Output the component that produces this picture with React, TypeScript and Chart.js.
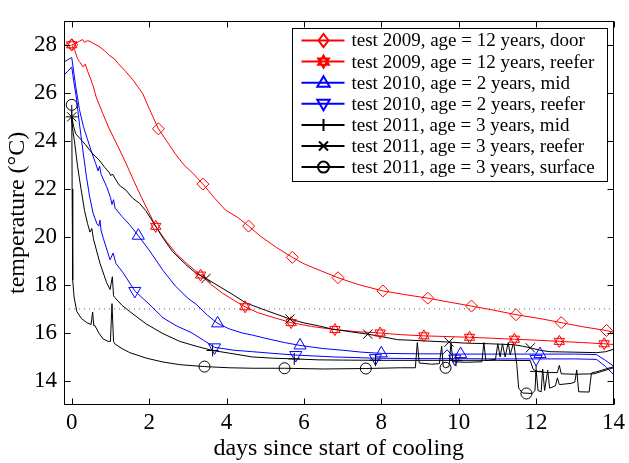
import React, { useEffect, useRef } from 'react';
import { Chart, registerables } from 'chart.js';
Chart.register(...registerables);

const FONT = '"Liberation Serif", "Times New Roman", serif';
const X_TICKS = [0, 2, 4, 6, 8, 10, 12, 14];
const Y_TICKS = [14, 16, 18, 20, 22, 24, 26, 28];
const X_MIN = -0.2;
const X_MAX = 14;
const Y_MIN = 13;
const Y_MAX = 29;
const THRESHOLD = 17;
const X_TITLE = 'days since start of cooling';
const Y_TITLE = 'temperature (°C)';

const LABELS = [
  'test 2009, age = 12 years, door',
  'test 2009, age = 12 years, reefer',
  'test 2010, age = 2 years, mid',
  'test 2010, age = 2 years, reefer',
  'test 2011, age = 3 years, mid',
  'test 2011, age = 3 years, reefer',
  'test 2011, age = 3 years, surface',
];
const COLORS = ['#ff0000', '#ff0000', '#0000ff', '#0000ff', '#000000', '#000000', '#000000'];
const MARKERS = ['diamond', 'hexagram', 'triUp', 'triDown', 'plus', 'x', 'circle'];

// test 2009 door
const DOOR_X = [0, 0.1, 0.2, 0.28, 0.33, 0.41, 0.5, 0.6, 0.71, 0.85, 0.97, 1.1, 1.2, 1.4, 1.6, 1.83, 2.0, 2.24, 2.45, 2.68, 2.9, 3.15, 3.39, 3.7, 3.97, 4.3, 4.57, 4.9, 5.3, 5.7, 6.0, 6.45, 6.88, 7.4, 8.04, 8.6, 9.2, 9.7, 10.33, 10.9, 11.48, 12.1, 12.65, 13.2, 13.82, 14];
const DOOR_Y = [28.0, 28.05, 28.15, 28.22, 28.1, 28.18, 28.12, 28.02, 27.93, 27.75, 27.56, 27.42, 27.22, 26.88, 26.5, 25.98, 25.35, 24.5, 24.0, 23.45, 23.0, 22.62, 22.2, 21.6, 21.12, 20.8, 20.45, 20.0, 19.55, 19.15, 18.88, 18.58, 18.3, 18.02, 17.75, 17.6, 17.45, 17.3, 17.12, 16.95, 16.76, 16.6, 16.43, 16.26, 16.1, 16.03];
const DOOR_MX = [0, 2.24, 3.39, 4.57, 5.7, 6.88, 8.04, 9.2, 10.33, 11.48, 12.65, 13.82];
const DOOR_MY = [28.0, 24.5, 22.2, 20.45, 19.15, 18.3, 17.75, 17.45, 17.12, 16.76, 16.43, 16.1];

// test 2009 reefer
const R09_X = [0, 0.07, 0.15, 0.2, 0.29, 0.35, 0.41, 0.46, 0.55, 0.63, 0.8, 0.97, 1.2, 1.4, 1.6, 1.8, 2.0, 2.17, 2.45, 2.7, 3.0, 3.33, 3.6, 3.9, 4.2, 4.48, 4.8, 5.2, 5.67, 6.2, 6.8, 7.4, 7.97, 8.5, 9.1, 9.7, 10.28, 10.85, 11.44, 12.0, 12.6, 13.2, 13.76, 14];
const R09_Y = [28.0, 27.8, 27.42, 27.3, 27.08, 27.2, 26.9, 26.7, 26.3, 25.83, 25.15, 24.5, 23.75, 23.07, 22.35, 21.65, 21.0, 20.44, 19.8, 19.3, 18.85, 18.41, 18.02, 17.65, 17.35, 17.09, 16.85, 16.65, 16.43, 16.27, 16.14, 16.05, 16.0, 15.93, 15.88, 15.85, 15.82, 15.78, 15.74, 15.7, 15.65, 15.6, 15.55, 15.52];
const R09_MX = [0, 2.17, 3.33, 4.48, 5.67, 6.8, 7.97, 9.1, 10.28, 11.44, 12.6, 13.76];
const R09_MY = [28.0, 20.44, 18.41, 17.09, 16.43, 16.14, 16.0, 15.88, 15.82, 15.74, 15.65, 15.55];

// test 2010 mid
const M10_X = [-0.2, -0.1, 0, 0.1, 0.2, 0.3, 0.4, 0.5, 0.62, 0.68, 0.72, 0.76, 0.9, 1.0, 1.04, 1.08, 1.12, 1.3, 1.5, 1.72, 2.0, 2.36, 2.68, 3.0, 3.21, 3.5, 3.77, 4.07, 4.4, 4.67, 5.0, 5.5, 5.9, 6.5, 7.0, 7.5, 8.0, 9.0, 9.6, 9.7, 9.8, 10.05, 11.0, 12.1, 13.0, 13.56, 13.8, 14];
const M10_Y = [27.28, 27.38, 27.47, 26.3, 25.3, 24.6, 24.1, 23.6, 23.05, 22.75, 22.95, 22.6, 22.1, 21.65, 21.35, 21.55, 21.2, 20.85, 20.5, 20.05, 19.45, 18.6, 17.95, 17.45, 17.2, 16.75, 16.4, 16.17, 16.0, 15.91, 15.78, 15.6, 15.48, 15.35, 15.28, 15.2, 15.15, 15.13, 15.13, 15.3, 15.12, 15.12, 15.12, 15.12, 15.12, 15.1, 14.85, 14.62];
const M10_MX = [1.72, 3.77, 5.9, 8.0, 10.05, 12.1];
const M10_MY = [20.05, 16.4, 15.48, 15.15, 15.12, 15.12];

// test 2010 reefer
const R10_X = [-0.2, -0.1, 0, 0.05, 0.11, 0.2, 0.28, 0.38, 0.46, 0.55, 0.65, 0.7, 0.73, 0.76, 0.82, 0.99, 1.07, 1.14, 1.33, 1.63, 2.0, 2.36, 2.7, 3.11, 3.4, 3.69, 4.2, 4.67, 5.2, 5.79, 6.8, 7.85, 9.0, 9.9, 11.0, 12.0, 13.0, 13.56, 13.8, 14];
const R10_Y = [26.75, 26.9, 27.08, 26.5, 25.9, 24.7, 23.7, 22.5, 21.7, 21.0, 20.55, 20.45, 20.7, 20.25, 19.92, 19.05, 19.33, 18.9, 18.5, 17.75, 17.2, 16.63, 16.3, 16.0, 15.7, 15.4, 15.28, 15.22, 15.15, 15.08, 15.0, 14.95, 14.93, 14.93, 14.92, 14.92, 14.92, 14.9, 14.6, 14.27];
const R10_MX = [1.63, 3.69, 5.79, 7.85, 9.9, 12.0];
const R10_MY = [17.75, 15.4, 15.08, 14.95, 14.93, 14.92];

// test 2011 mid
const M11_X = [0, 0.03, 0.07, 0.15, 0.24, 0.33, 0.41, 0.47, 0.52, 0.56, 0.73, 0.9, 0.99, 1.05, 1.08, 1.11, 1.3, 1.5, 1.93, 2.36, 2.79, 3.21, 3.64, 4.07, 4.67, 5.2, 5.75, 6.37, 7.0, 8.0, 9.0, 10.0, 11.0, 11.85, 11.92, 12.0, 12.3, 12.55, 12.6, 12.65, 13.0, 13.5, 13.7, 14];
const M11_Y = [25.0, 24.4, 24.0, 22.94, 22.0, 21.1, 20.55, 20.2, 20.35, 19.92, 18.9, 18.1, 17.81, 18.34, 17.55, 17.48, 17.15, 16.89, 16.37, 15.97, 15.65, 15.45, 15.27, 15.16, 15.0, 14.95, 14.92, 14.88, 14.87, 14.86, 14.86, 14.86, 14.86, 14.85, 14.5, 14.4, 14.35, 14.35, 14.65, 14.3, 14.28, 14.3, 14.4, 14.55];
const M11_MX = [0, 3.64, 5.75, 7.85, 9.93, 12.0];
const M11_MY = [25.0, 15.27, 14.92, 14.87, 14.86, 14.4];

// test 2011 reefer
const R11_X = [0, 0.05, 0.1, 0.2, 0.35, 0.54, 0.71, 0.85, 0.97, 1.01, 1.05, 1.23, 1.4, 1.57, 1.75, 1.91, 2.05, 2.17, 2.36, 2.6, 2.94, 3.2, 3.47, 3.8, 4.14, 4.5, 5.0, 5.64, 6.0, 6.37, 6.71, 7.2, 7.65, 8.0, 8.42, 9.0, 9.75, 10.14, 10.8, 11.42, 11.65, 11.85, 12.1, 12.36, 13.0, 13.56, 13.8, 14];
const R11_Y = [25.0, 24.6, 24.3, 24.12, 23.85, 23.46, 23.2, 22.9, 22.68, 22.55, 22.62, 22.15, 21.95, 21.62, 21.4, 21.1, 20.75, 20.44, 19.95, 19.4, 18.86, 18.5, 18.27, 17.95, 17.62, 17.25, 16.95, 16.58, 16.42, 16.3, 16.17, 16.05, 15.95, 15.85, 15.72, 15.68, 15.62, 15.58, 15.55, 15.51, 15.45, 15.38, 15.28, 15.22, 15.2, 15.18, 15.22, 15.32];
const R11_MX = [0, 3.47, 5.64, 7.65, 9.75, 11.85];
const R11_MY = [25.0, 18.27, 16.58, 15.95, 15.62, 15.38];

// test 2011 surface
const S11_X = [0, 0.01, 0.02, 0.03, 0.06, 0.13, 0.25, 0.39, 0.5, 0.54, 0.57, 0.6, 0.7, 0.81, 0.94, 1.0, 1.04, 1.08, 1.11, 1.3, 1.5, 1.93, 2.36, 2.79, 3.43, 4.07, 4.67, 5.5, 6.5, 7.6, 8.5, 8.88, 8.93, 8.98, 9.3, 9.5, 9.56, 9.6, 9.66, 9.75, 9.8, 9.85, 10.2, 10.6, 10.65, 10.7, 10.95, 11.01, 11.07, 11.13, 11.2, 11.28, 11.33, 11.42, 11.5, 11.55, 11.65, 11.9, 11.97, 12.0, 12.05, 12.13, 12.17, 12.22, 12.3, 12.35, 12.5, 12.55, 12.6, 12.9, 13.0, 13.05, 13.1, 13.37, 13.43, 13.6, 13.8, 14];
const S11_Y = [25.5, 22.0, 19.5, 18.2, 17.5, 16.9, 16.6, 16.43, 16.35, 16.87, 16.3, 16.3, 16.0, 15.75, 15.65, 15.65, 17.22, 15.65, 15.55, 15.35, 15.18, 14.95, 14.79, 14.68, 14.6, 14.55, 14.53, 14.53, 14.5, 14.52, 14.55, 14.55, 15.6, 14.75, 14.7, 14.72, 15.45, 14.6, 14.55, 14.6, 15.6, 14.8, 14.78, 14.8, 15.6, 14.85, 14.9, 15.55, 15.0, 15.55, 15.0, 15.6, 15.1, 15.6, 14.7, 13.7, 13.5, 13.48, 13.6, 14.46, 13.6, 13.55, 14.5, 13.6, 14.45, 13.7, 13.8, 14.13, 13.85, 13.9, 13.95, 14.46, 13.55, 13.54, 14.33, 14.4, 14.5, 14.59];
const S11_MX = [0, 3.43, 5.5, 7.6, 9.66, 11.75];
const S11_MY = [25.5, 14.6, 14.53, 14.52, 14.55, 13.48];

const SERIES_X = [DOOR_X, R09_X, M10_X, R10_X, M11_X, R11_X, S11_X];
const SERIES_Y = [DOOR_Y, R09_Y, M10_Y, R10_Y, M11_Y, R11_Y, S11_Y];
const MARK_X = [DOOR_MX, R09_MX, M10_MX, R10_MX, M11_MX, R11_MX, S11_MX];
const MARK_Y = [DOOR_MY, R09_MY, M10_MY, R10_MY, M11_MY, R11_MY, S11_MY];

// Chart.js point styles used for each marker kind (hexagram = two overlaid triangles)
const MARKER_STYLES: Record<string, { style: string; radius: number; rotation: number }[]> = {
  diamond: [{ style: 'rectRot', radius: 6, rotation: 0 }],
  hexagram: [
    { style: 'triangle', radius: 6, rotation: 0 },
    { style: 'triangle', radius: 6, rotation: 180 },
  ],
  triUp: [{ style: 'triangle', radius: 7, rotation: 0 }],
  triDown: [{ style: 'triangle', radius: 7, rotation: 180 }],
  plus: [{ style: 'cross', radius: 6, rotation: 0 }],
  x: [{ style: 'crossRot', radius: 6.5, rotation: 0 }],
  circle: [{ style: 'circle', radius: 5.5, rotation: 0 }],
};

function pathMarker(ctx: CanvasRenderingContext2D, kind: string, cx: number, cy: number) {
  ctx.beginPath();
  if (kind === 'diamond') {
    ctx.moveTo(cx - 5, cy);
    ctx.lineTo(cx, cy - 6.5);
    ctx.lineTo(cx + 5, cy);
    ctx.lineTo(cx, cy + 6.5);
    ctx.closePath();
  } else if (kind === 'triUp' || kind === 'triDown') {
    const s = kind === 'triUp' ? 1 : -1;
    ctx.moveTo(cx, cy - 6.5 * s);
    ctx.lineTo(cx + 6.2, cy + 4 * s);
    ctx.lineTo(cx - 6.2, cy + 4 * s);
    ctx.closePath();
  } else if (kind === 'hexagram') {
    const R = 6.2;
    for (let t = 0; t < 2; t++) {
      for (let k = 0; k < 3; k++) {
        const ang = -Math.PI / 2 + t * Math.PI + (k * 2 * Math.PI) / 3;
        const px = cx + R * Math.cos(ang);
        const py = cy + R * Math.sin(ang);
        if (k === 0) ctx.moveTo(px, py);
        else ctx.lineTo(px, py);
      }
      ctx.closePath();
    }
  } else if (kind === 'plus') {
    ctx.moveTo(cx - 6, cy);
    ctx.lineTo(cx + 6, cy);
    ctx.moveTo(cx, cy - 6);
    ctx.lineTo(cx, cy + 6);
  } else if (kind === 'x') {
    ctx.moveTo(cx - 4.5, cy - 4.5);
    ctx.lineTo(cx + 4.5, cy + 4.5);
    ctx.moveTo(cx + 4.5, cy - 4.5);
    ctx.lineTo(cx - 4.5, cy + 4.5);
  } else if (kind === 'circle') {
    ctx.arc(cx, cy, 5.5, 0, Math.PI * 2);
  }
  ctx.stroke();
}

const frameLegendPlugin = {
  id: 'frameLegend',
  afterDatasetsDraw(chart: any) {
    const { ctx, chartArea: a, scales } = chart;
    ctx.save();
    ctx.strokeStyle = '#000';
    ctx.lineWidth = 1;
    const L = Math.round(a.left) + 0.5;
    const R = Math.round(a.right) - 0.5;
    const T = Math.round(a.top) + 0.5;
    const B = Math.round(a.bottom) - 0.5;
    ctx.strokeRect(L, T, R - L, B - T);
    const tl = 6;
    ctx.beginPath();
    X_TICKS.forEach((v) => {
      const px = Math.round(scales.x.getPixelForValue(v)) + 0.5;
      ctx.moveTo(px, B);
      ctx.lineTo(px, B - tl);
      ctx.moveTo(px, T);
      ctx.lineTo(px, T + tl);
    });
    Y_TICKS.forEach((v) => {
      const py = Math.round(scales.y.getPixelForValue(v)) + 0.5;
      ctx.moveTo(L, py);
      ctx.lineTo(L + tl, py);
      ctx.moveTo(R, py);
      ctx.lineTo(R - tl, py);
    });
    ctx.stroke();

    // legend box
    const bx = Math.round(a.right) - 322 + 0.5;
    const by = Math.round(a.top) + 7 + 0.5;
    const bw = 315;
    const bh = 153;
    ctx.fillStyle = '#fff';
    ctx.fillRect(bx, by, bw, bh);
    ctx.strokeRect(bx, by, bw, bh);
    ctx.font = '19px ' + FONT;
    ctx.textBaseline = 'middle';
    ctx.textAlign = 'left';
    LABELS.forEach((lab, i) => {
      const y = by + 12 + i * 21.1;
      ctx.strokeStyle = COLORS[i];
      ctx.lineWidth = 2;
      ctx.beginPath();
      ctx.moveTo(bx + 9, y);
      ctx.lineTo(bx + 52, y);
      ctx.stroke();
      pathMarker(ctx, MARKERS[i], bx + 31, y);
      ctx.fillStyle = '#000';
      ctx.fillText(lab, bx + 59, y + 1);
    });
    ctx.restore();
  },
};

export default function App() {
  const ref = useRef<HTMLCanvasElement | null>(null);
  useEffect(() => {
    document.body.style.margin = '0';
    const canvas = ref.current;
    if (!canvas) return;
    const lineSets: any[] = [];
    const markSets: any[] = [];
    for (let i = 0; i < LABELS.length; i++) {
      const xs = SERIES_X[i];
      const ys = SERIES_Y[i];
      lineSets.push({
        label: LABELS[i],
        data: xs.map((x, k) => ({ x, y: ys[k] })),
        showLine: true,
        borderColor: COLORS[i],
        backgroundColor: COLORS[i],
        borderWidth: 1,
        pointRadius: 0,
        tension: 0,
        fill: false,
      });
      const mx = MARK_X[i];
      const my = MARK_Y[i];
      MARKER_STYLES[MARKERS[i]].forEach((ms, j) => {
        markSets.push({
          label: LABELS[i] + ' markers ' + j,
          data: mx.map((x, k) => ({ x, y: my[k] })),
          showLine: false,
          pointStyle: ms.style,
          pointRadius: ms.radius,
          pointRotation: ms.rotation,
          pointBorderWidth: 1,
          borderColor: COLORS[i],
          pointBorderColor: COLORS[i],
          backgroundColor: 'rgba(0,0,0,0)',
          pointBackgroundColor: 'rgba(0,0,0,0)',
        });
      });
    }
    const dotted = {
      label: 'threshold',
      data: [
        { x: X_MIN, y: THRESHOLD },
        { x: X_MAX, y: THRESHOLD },
      ],
      showLine: true,
      borderColor: '#666',
      borderWidth: 1,
      borderDash: [1, 4],
      pointRadius: 0,
    };
    // Chart.js draws the last dataset first
    const datasets = [...markSets.slice().reverse(), ...lineSets.slice().reverse(), dotted];

    const chart = new Chart(canvas, {
      type: 'scatter',
      data: { datasets },
      options: {
        animation: false,
        responsive: false,
        devicePixelRatio: 1,
        events: [],
        layout: { padding: { top: 0, right: 12, left: 0, bottom: 0 } },
        plugins: { legend: { display: false }, tooltip: { enabled: false } },
        scales: {
          x: {
            type: 'linear',
            min: X_MIN,
            max: X_MAX,
            afterBuildTicks: (s: any) => {
              s.ticks = X_TICKS.map((v) => ({ value: v }));
            },
            afterFit: (s: any) => {
              s.height = 58;
            },
            grid: { display: false, drawTicks: false },
            border: { display: false },
            ticks: {
              color: '#000',
              font: { family: FONT, size: 23 },
              padding: 4,
              maxRotation: 0,
              autoSkip: false,
            },
            title: {
              display: true,
              text: X_TITLE,
              color: '#000',
              font: { family: FONT, size: 24 },
              padding: { top: 0, bottom: 0 },
            },
          },
          y: {
            type: 'linear',
            min: Y_MIN,
            max: Y_MAX,
            afterBuildTicks: (s: any) => {
              s.ticks = Y_TICKS.map((v) => ({ value: v }));
            },
            afterFit: (s: any) => {
              s.width = 64;
            },
            grid: { display: false, drawTicks: false },
            border: { display: false },
            ticks: {
              color: '#000',
              font: { family: FONT, size: 23 },
              padding: 7,
              autoSkip: false,
            },
            title: {
              display: true,
              text: Y_TITLE,
              color: '#000',
              font: { family: FONT, size: 24 },
              padding: { top: 3, bottom: 0 },
            },
          },
        },
      },
      plugins: [frameLegendPlugin],
    });
    return () => chart.destroy();
  }, []);
  return (
    <div style={{ position: 'relative', width: 629, height: 463 }}>
      <canvas ref={ref} width={629} height={463} style={{ display: 'block' }} />
    </div>
  );
}
